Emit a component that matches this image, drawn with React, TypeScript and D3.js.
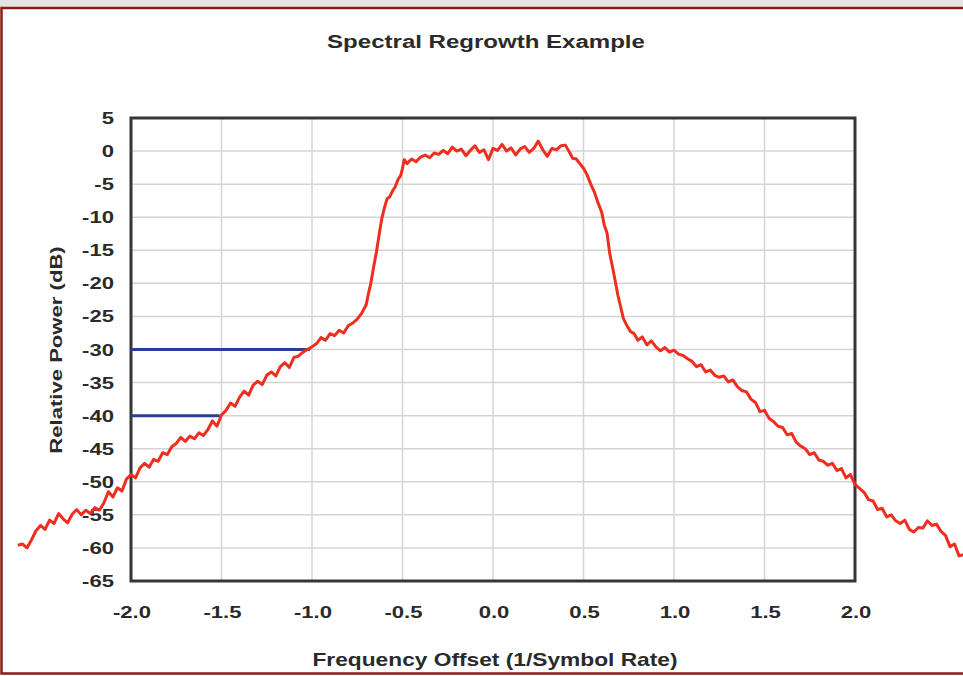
import React from "react";
import * as d3 from "d3";

// Measured spectrum: [frequency offset (1/symbol rate), relative power (dB)]
const spectrum: [number, number][] = [
  [-2.625, -59.6], [-2.6, -59.4], [-2.575, -60.0], [-2.55, -58.8], [-2.525, -57.4], [-2.5, -56.6], [-2.475, -57.2], [-2.45, -55.8], [-2.425, -56.3], [-2.4, -54.8],
  [-2.375, -55.6], [-2.35, -56.2], [-2.325, -54.9], [-2.3, -54.2], [-2.275, -55.0], [-2.25, -54.3], [-2.225, -54.8], [-2.2, -53.9], [-2.175, -54.3], [-2.15, -53.2],
  [-2.125, -51.5], [-2.1, -52.3], [-2.075, -50.9], [-2.05, -51.4], [-2.025, -49.6], [-2.0, -48.9], [-1.975, -49.4], [-1.95, -47.9], [-1.925, -47.2], [-1.9, -47.8],
  [-1.875, -46.6], [-1.85, -46.9], [-1.825, -45.6], [-1.8, -45.9], [-1.775, -44.7], [-1.75, -44.2], [-1.725, -43.3], [-1.7, -43.9], [-1.675, -43.1], [-1.65, -43.5],
  [-1.625, -42.6], [-1.6, -43.0], [-1.575, -42.1], [-1.55, -40.8], [-1.525, -41.6], [-1.5, -39.9], [-1.475, -39.2], [-1.45, -38.1], [-1.425, -38.6], [-1.4, -37.2],
  [-1.375, -36.3], [-1.35, -36.9], [-1.325, -35.4], [-1.3, -34.8], [-1.275, -35.3], [-1.25, -33.9], [-1.225, -33.4], [-1.2, -34.0], [-1.175, -32.6], [-1.15, -32.0],
  [-1.125, -32.7], [-1.1, -31.2], [-1.075, -31.0], [-1.05, -30.4], [-1.025, -30.0], [-1.0, -29.6], [-0.975, -29.1], [-0.95, -28.2], [-0.925, -28.6], [-0.9, -27.6],
  [-0.875, -27.9], [-0.85, -27.1], [-0.825, -27.5], [-0.8, -26.4], [-0.775, -26.0], [-0.75, -25.4], [-0.725, -24.5], [-0.7, -23.2], [-0.69, -21.8], [-0.675, -20.0],
  [-0.66, -17.6], [-0.645, -15.4], [-0.63, -12.8], [-0.615, -10.3], [-0.6, -8.6], [-0.585, -7.2], [-0.57, -6.9], [-0.555, -6.0], [-0.54, -5.4], [-0.525, -4.3],
  [-0.51, -3.7], [-0.5, -2.6], [-0.49, -1.3], [-0.475, -1.9], [-0.45, -1.2], [-0.425, -1.6], [-0.4, -0.9], [-0.375, -0.6], [-0.35, -1.0], [-0.325, -0.3],
  [-0.3, -0.5], [-0.275, 0.1], [-0.25, -0.4], [-0.225, 0.6], [-0.2, 0.0], [-0.175, 0.3], [-0.15, -0.7], [-0.125, 0.1], [-0.1, 0.8], [-0.075, -0.2],
  [-0.05, 0.2], [-0.025, -1.3], [0.0, 0.4], [0.025, 0.1], [0.05, 1.0], [0.075, 0.0], [0.1, 0.5], [0.125, -0.6], [0.15, 0.3], [0.175, 0.7],
  [0.2, -0.2], [0.225, 0.4], [0.25, 1.5], [0.275, 0.2], [0.3, -0.8], [0.325, 0.4], [0.35, 0.2], [0.375, 0.8], [0.4, 0.9], [0.425, -0.3],
  [0.44, -1.1], [0.46, -1.2], [0.48, -1.9], [0.5, -2.6], [0.52, -3.6], [0.54, -5.0], [0.56, -6.2], [0.58, -7.8], [0.6, -9.2], [0.615, -11.2],
  [0.63, -12.4], [0.645, -15.5], [0.66, -17.5], [0.675, -19.6], [0.69, -21.8], [0.705, -23.5], [0.72, -25.3], [0.74, -26.4], [0.76, -27.3], [0.78, -27.6],
  [0.8, -28.6], [0.825, -28.1], [0.85, -29.3], [0.875, -28.7], [0.9, -29.6], [0.925, -30.2], [0.95, -29.7], [0.975, -30.4], [1.0, -30.1], [1.025, -30.7],
  [1.05, -30.9], [1.075, -31.4], [1.1, -31.8], [1.125, -32.6], [1.15, -32.3], [1.175, -33.4], [1.2, -33.1], [1.225, -33.9], [1.25, -34.2], [1.275, -34.0],
  [1.3, -34.9], [1.325, -34.6], [1.35, -35.6], [1.375, -36.2], [1.4, -36.4], [1.425, -37.5], [1.45, -38.0], [1.475, -39.4], [1.5, -39.2], [1.525, -40.4],
  [1.55, -40.9], [1.575, -41.6], [1.6, -41.8], [1.625, -42.9], [1.65, -42.7], [1.675, -44.0], [1.7, -44.6], [1.725, -45.0], [1.75, -45.9], [1.775, -45.6],
  [1.8, -46.7], [1.825, -46.9], [1.85, -47.5], [1.875, -47.2], [1.9, -48.3], [1.925, -48.0], [1.95, -49.4], [1.975, -48.9], [2.0, -50.4], [2.025, -51.0],
  [2.05, -51.6], [2.075, -52.7], [2.1, -52.9], [2.125, -54.2], [2.15, -54.0], [2.175, -55.3], [2.2, -55.0], [2.225, -55.9], [2.25, -56.3], [2.275, -55.8],
  [2.3, -57.2], [2.325, -57.6], [2.35, -56.9], [2.375, -57.0], [2.4, -55.9], [2.425, -56.6], [2.45, -56.4], [2.475, -57.5], [2.5, -58.1], [2.525, -59.8],
  [2.55, -59.4], [2.575, -61.2], [2.6, -61.0],
];

// Regrowth reference markers: level (dB) with start and end offsets
const markerLevels = [-30, -40];
const markerStarts = [-2.0, -2.0];
const markerEnds = [-1.01, -1.51];

const xTicks = [-2.0, -1.5, -1.0, -0.5, 0.0, 0.5, 1.0, 1.5, 2.0];
const yTicks = [5, 0, -5, -10, -15, -20, -25, -30, -35, -40, -45, -50, -55, -60, -65];

const W = 963;
const H = 676;
const plot = { left: 131, right: 855, top: 118, bottom: 581 };
const font = "'Liberation Sans', Arial, sans-serif";
const ink = "#2a2a2a";
const stretch = 1.3;

// Bold label drawn with a wide horizontal stretch
function Label(props: {
  x: number;
  y: number;
  size: number;
  anchor?: "start" | "middle" | "end";
  rotate?: number;
  children: React.ReactNode;
}) {
  const { x, y, size, anchor = "middle", rotate = 0, children } = props;
  return (
    <text
      transform={`translate(${x},${y}) rotate(${rotate}) scale(${stretch},1)`}
      textAnchor={anchor}
      fontFamily={font}
      fontWeight="bold"
      fontSize={size}
      fill={ink}
    >
      {children}
    </text>
  );
}

export default function App() {
  const x = d3.scaleLinear().domain([-2, 2]).range([plot.left, plot.right]);
  const y = d3.scaleLinear().domain([-65, 5]).range([plot.bottom, plot.top]);
  const line = d3
    .line<[number, number]>()
    .x((d) => x(d[0]))
    .y((d) => y(d[1]));

  return (
    <svg
      width={W}
      height={H}
      style={{ position: "absolute", left: 0, top: 0, background: "#fff" }}
    >
      <rect x={0} y={0} width={W} height={7} fill="#e4e4e4" />
      <rect x={1.5} y={8} width={W + 5} height={665.5} fill="#fff" stroke="#8e1b17" strokeWidth={2.5} />

      <Label x={486} y={48} size={18.5}>
        Spectral Regrowth Example
      </Label>

      {/* grid */}
      {xTicks.map((t) => (
        <line key={"gx" + t} x1={x(t)} x2={x(t)} y1={plot.top} y2={plot.bottom} stroke="#d6d3d3" strokeWidth={1.5} />
      ))}
      {yTicks.map((t) => (
        <line key={"gy" + t} x1={plot.left} x2={plot.right} y1={y(t)} y2={y(t)} stroke="#d6d3d3" strokeWidth={1.5} />
      ))}

      {/* frame */}
      <rect
        x={plot.left}
        y={plot.top}
        width={plot.right - plot.left}
        height={plot.bottom - plot.top}
        fill="none"
        stroke="#363636"
        strokeWidth={3}
      />

      {/* tick labels */}
      {yTicks.map((t) => (
        <Label key={"ty" + t} x={114} y={y(t) + 6} size={17} anchor="end">
          {t}
        </Label>
      ))}
      {xTicks.map((t) => (
        <Label key={"tx" + t} x={x(t) + 1} y={618} size={17}>
          {t.toFixed(1)}
        </Label>
      ))}

      <Label x={495} y={666} size={17.5}>
        Frequency Offset (1/Symbol Rate)
      </Label>
      <Label x={62} y={350} size={17} rotate={-90}>
        Relative Power (dB)
      </Label>

      {/* markers */}
      {markerLevels.map((lv, i) => (
        <line
          key={"m" + lv}
          x1={x(markerStarts[i])}
          x2={x(markerEnds[i])}
          y1={y(lv)}
          y2={y(lv)}
          stroke="#2b3d9b"
          strokeWidth={3}
        />
      ))}

      <path d={line(spectrum) ?? ""} fill="none" stroke="#ef2e1f" strokeWidth={3} strokeLinejoin="round" />
    </svg>
  );
}
